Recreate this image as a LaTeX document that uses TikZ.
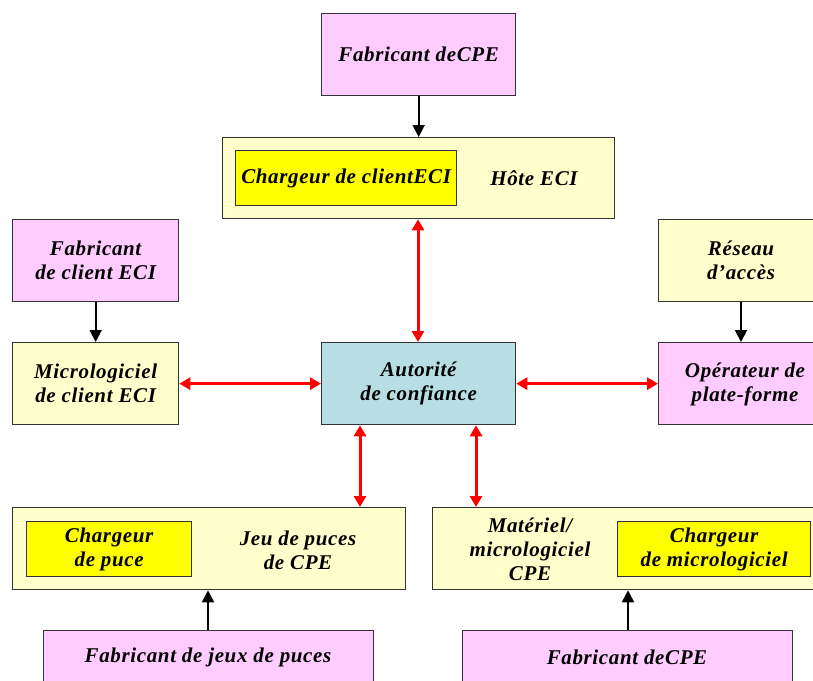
\documentclass[tikz,border=0pt]{standalone}
\usepackage{fontspec}
\setmainfont{Liberation Serif}[LetterSpace=3]
\usetikzlibrary{arrows.meta}
\definecolor{pinkbox}{HTML}{FFCCFF}
\definecolor{creambox}{HTML}{FFFFCC}
\definecolor{yellowbox}{HTML}{FFFF00}
\definecolor{tealbox}{HTML}{B7DEE2}
\definecolor{edge}{HTML}{333333}
\definecolor{linkred}{HTML}{FF0000}
\tikzset{
  box/.style={draw=edge, line width=1.3pt, anchor=north west, inner sep=0pt,
    font=\bfseries\itshape\fontsize{21}{24}\selectfont, align=center},
  lbl/.style={font=\bfseries\itshape\fontsize{21}{24}\selectfont, align=center, inner sep=0pt},
  feed/.style={line width=1.8pt, -{Triangle[width=12pt,length=12pt]}},
  trust/.style={draw=linkred, line width=3pt, {Triangle[width=12pt,length=11pt]}-{Triangle[width=12pt,length=11pt]}}
}
\begin{document}
\begin{tikzpicture}[x=1pt,y=-1pt]
\useasboundingbox (0,0) rectangle (813,680);
\clip (0,0) rectangle (813,680);
% top row
\node[box, fill=pinkbox, minimum width=194pt, minimum height=82pt] (fabcpe1) at (321,13) {Fabricant deCPE};
\node[box, fill=creambox, minimum width=392pt, minimum height=81pt] (hote) at (222,137) {};
\node[box, fill=yellowbox, minimum width=221pt, minimum height=55pt] (chclient) at (235,150) {Chargeur de clientECI};
\node[lbl] (hotelbl) at (534,178) {Hôte ECI};
% second row
\node[box, fill=pinkbox, minimum width=166pt, minimum height=82pt] (fabclient) at (12,219) {Fabricant\\de client ECI};
\node[box, fill=creambox, minimum width=160pt, minimum height=82pt] (reseau) at (658,219) {};
\node[lbl] (reseaulbl) at (741,260) {Réseau\\d’accès};
% middle row
\node[box, fill=creambox, minimum width=166pt, minimum height=82pt] (micro) at (12,342) {Micrologiciel\\de client ECI};
\node[box, fill=tealbox, minimum width=194pt, minimum height=82pt] (autorite) at (321,342) {Autorité\\de confiance};
\node[box, fill=pinkbox, minimum width=160pt, minimum height=82pt] (operateur) at (658,342) {};
\node[lbl] (oplbl) at (745,384) {Opérateur de\\plate-forme};
% lower row
\node[box, fill=creambox, minimum width=393pt, minimum height=82pt] (jeu) at (12,507) {};
\node[box, fill=yellowbox, minimum width=165pt, minimum height=55pt] (chpuce) at (26,521) {Chargeur\\de puce};
\node[lbl] (jeulbl) at (298,550) {Jeu de puces\\de CPE};
\node[box, fill=creambox, minimum width=390pt, minimum height=82pt] (materiel) at (432,507) {};
\node[lbl] (matlbl) at (530,549) {Matériel/\\micrologiciel\\CPE};
\node[box, fill=yellowbox, minimum width=193pt, minimum height=55pt] (chmicro) at (617,521) {Chargeur\\de micrologiciel};
% bottom row
\node[box, fill=pinkbox, minimum width=330pt, minimum height=80pt] (fabjeux) at (43,630) {};
\node[lbl] at (208,657) {Fabricant de jeux de puces};
\node[box, fill=pinkbox, minimum width=330pt, minimum height=80pt] (fabcpe2) at (462,630) {};
\node[lbl] at (627,657) {Fabricant deCPE};
% supply links
\draw[feed] (fabcpe1.south) -- (hote.north -| fabcpe1.south);
\draw[feed] (fabclient.south) -- (micro.north);
\draw[feed] (reseau.south -| 741,0) -- (operateur.north -| 741,0);
\draw[feed] (fabjeux.north -| 208,0) -- (jeu.south -| 208,0);
\draw[feed] (fabcpe2.north -| 628,0) -- (materiel.south -| 628,0);
% trust links
\draw[trust] (hote.south -| 418,0) -- (autorite.north -| 418,0);
\draw[trust] (micro.east) -- (autorite.west);
\draw[trust] (autorite.east) -- (operateur.west);
\draw[trust] (autorite.south -| 360,0) -- (jeu.north -| 360,0);
\draw[trust] (autorite.south -| 476,0) -- (materiel.north -| 476,0);
\end{tikzpicture}
\end{document}
